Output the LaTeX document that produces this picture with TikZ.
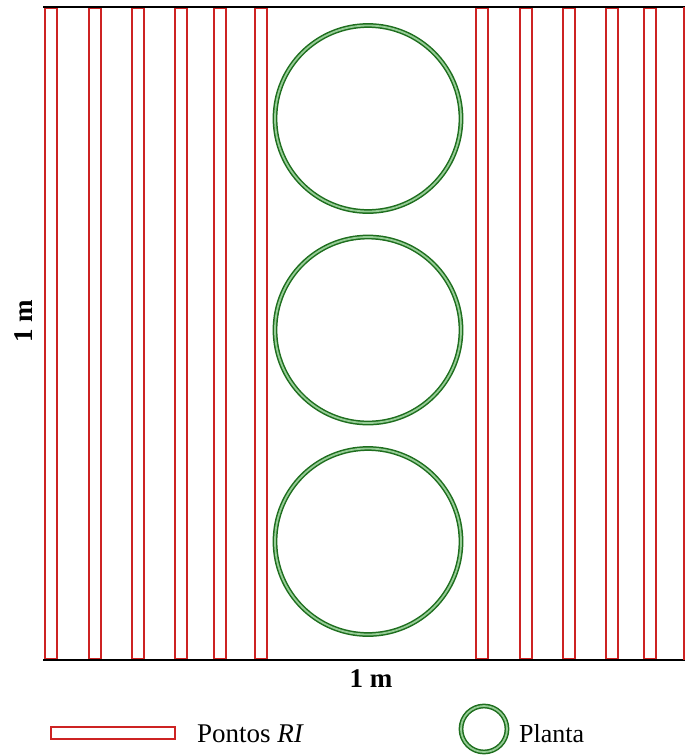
\documentclass[tikz,border=0pt]{standalone}
\usepackage{fontspec}
\setmainfont{Liberation Serif}
\usetikzlibrary{positioning}
\definecolor{rired}{RGB}{205,35,35}
\definecolor{plantdark}{RGB}{30,110,30}
\definecolor{plantlight}{RGB}{150,205,150}
\begin{document}
\begin{tikzpicture}[
x=1pt, y=-1pt,
strip/.style={rectangle, draw=rired, line width=2.2pt, inner sep=0pt, minimum width=12pt, minimum height=651pt},
plant/.style={circle, draw=plantdark, double=plantlight, line width=1.5pt, double distance=1.8pt, inner sep=0pt, minimum size=186pt},
label/.style={font=\fontsize{26}{30}\selectfont, inner sep=0pt}
]
\useasboundingbox (0,0) rectangle (686,756);

% strips
\foreach \xs [count=\i] in {51,95,138,181,220,261,482,526,569,612,650}
  \node[strip] (s\i) at (\xs,333.5) {};

% frame
\coordinate (tl) at (43,7);
\coordinate (tr) at (685,7);
\coordinate (bl) at (43,660);
\coordinate (br) at (685,660);
\draw[black, line width=2.6pt] (tl) -- (tr);
\draw[black, line width=2.6pt] (bl) -- (br);
\draw[rired, line width=2.2pt] ([xshift=-1.2pt]tr) -- ([xshift=-1.2pt]br);

% plants
\node[plant] (p1) at (368,118.5) {};
\node[plant] (p2) at (368,330) {};
\node[plant] (p3) at (368,541.5) {};

% dimensions
\node[label, font=\bfseries\fontsize{27}{30}\selectfont] (w) at (371,679) {1 m};
\node[label, font=\bfseries\fontsize{27}{30}\selectfont, rotate=90] (h) at (24,321) {1 m};

% legend
\node[strip, minimum width=124pt, minimum height=12pt] (lr) at (113,733) {};
\node[label, anchor=west, font=\fontsize{27}{30}\selectfont] (lrt) at (197,734) {Pontos \textit{RI}};
\node[plant, minimum size=46pt] (lp) at (484,729) {};
\node[label, anchor=west] (lpt) at (519,734) {Planta};
\end{tikzpicture}
\end{document}
